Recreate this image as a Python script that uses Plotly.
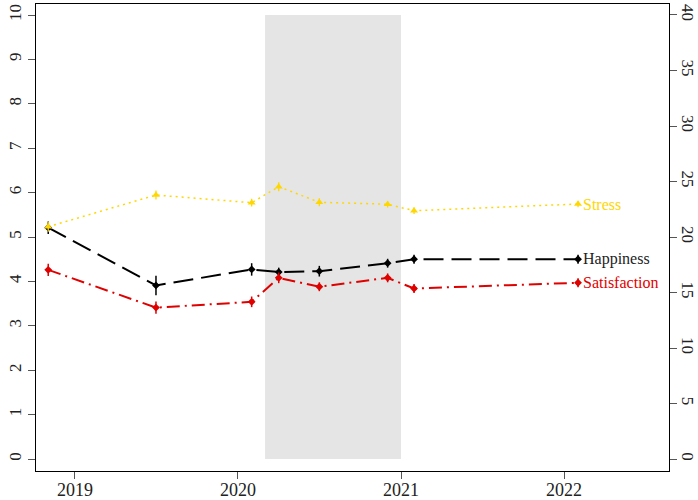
import plotly.graph_objects as go

# Survey waves (decimal years)
waves = [2018.836, 2019.497, 2020.084, 2020.25, 2020.499, 2020.918, 2021.08, 2022.086]

happiness = [5.21, 3.91, 4.27, 4.21, 4.23, 4.41, 4.50, 4.50]
happiness_err = [0.14, 0.22, 0.14, 0.10, 0.12, 0.10, 0.10, 0.10]

satisfaction = [4.26, 3.41, 3.54, 4.08, 3.88, 4.08, 3.84, 3.97]
satisfaction_err = [0.14, 0.14, 0.12, 0.12, 0.10, 0.10, 0.10, 0.10]

stress = [20.93, 23.78, 23.09, 24.53, 23.13, 22.95, 22.37, 22.97]  # right axis
stress_err = [0.45, 0.40, 0.35, 0.40, 0.35, 0.30, 0.30, 0.30]

year_ticks = [2019, 2020, 2021, 2022]
left_ticks = list(range(0, 11))
right_ticks = list(range(0, 41, 5))

lockdown = [2020.166, 2021.0]

FONT = "Liberation Serif, Times New Roman, serif"
C_H = "#000000"
C_S = "#DF0000"
C_ST = "#FFD700"
TICKFONT_X = dict(family=FONT, size=18, color="#222222")
TICKFONT_Y = dict(family=FONT, size=17, color="#222222")

fig = go.Figure()

fig.add_shape(type="rect", xref="x", yref="y", x0=lockdown[0], x1=lockdown[1], y0=0, y1=10,
              fillcolor="#E5E5E5", line=dict(width=0), layer="below")

fig.add_trace(go.Scatter(
    x=waves, y=stress, yaxis="y2", mode="lines+markers",
    line=dict(color=C_ST, width=1.5, dash="2px,4px"),
    marker=dict(symbol="triangle-up", size=7, color=C_ST),
    error_y=dict(type="data", array=stress_err, color=C_ST, thickness=1.3, width=0),
    showlegend=False))

fig.add_trace(go.Scatter(
    x=waves, y=happiness, mode="lines+markers",
    line=dict(color=C_H, width=2, dash="20px,8px"),
    marker=dict(symbol="diamond", size=6, color=C_H),
    error_y=dict(type="data", array=happiness_err, color=C_H, thickness=1.5, width=0),
    showlegend=False))

fig.add_trace(go.Scatter(
    x=waves, y=satisfaction, mode="lines+markers",
    line=dict(color=C_S, width=2, dash="13px,5px,2px,5px"),
    marker=dict(symbol="diamond", size=6, color=C_S),
    error_y=dict(type="data", array=satisfaction_err, color=C_S, thickness=1.5, width=0),
    showlegend=False))

labels = [("Stress", stress[-1], "y2", C_ST),
          ("Happiness", happiness[-1], "y", "#222222"),
          ("Satisfaction", satisfaction[-1], "y", C_S)]
for txt, yv, yr, col in labels:
    fig.add_annotation(x=waves[-1], y=yv, xref="x", yref=yr, text=txt, showarrow=False,
                       xanchor="left", yanchor="middle", xshift=3,
                       font=dict(family=FONT, size=16, color=col))

axis_common = dict(showgrid=False, zeroline=False, showline=True, linecolor="black",
                   linewidth=1.3, ticks="outside", ticklen=7, tickcolor="#555555",
                   tickwidth=1.3, automargin=False)

fig.update_layout(
    width=698, height=500,
    margin=dict(l=36, r=29, t=4, b=29),
    plot_bgcolor="white", paper_bgcolor="white",
    font=dict(family=FONT, size=17, color="#222222"),
    xaxis=dict(range=[2018.761, 2022.644], tickvals=year_ticks,
               ticktext=[str(t) for t in year_ticks], mirror=True,
               ticklabelstandoff=-5, tickfont=TICKFONT_X, **axis_common),
    yaxis=dict(range=[-0.27, 10.248], tickvals=left_ticks, tickangle=-90,
               tickfont=TICKFONT_Y, **axis_common),
    yaxis2=dict(range=[-1.08, 40.99], tickvals=right_ticks, overlaying="y", side="right",
                tickangle=90, ticklabelstandoff=-2, tickfont=TICKFONT_Y, **axis_common),
)

fig.write_html("out.html")
